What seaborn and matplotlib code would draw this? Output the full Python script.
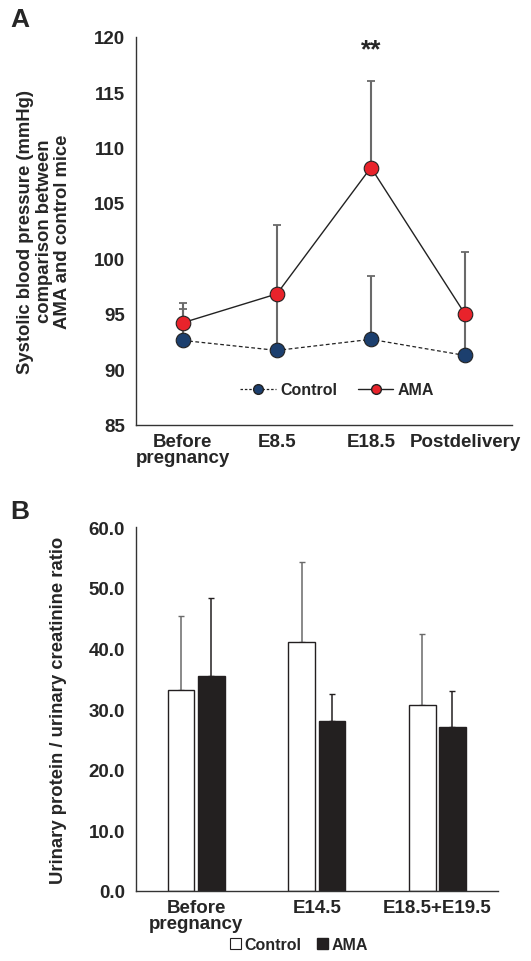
import numpy as np
import pandas as pd
import matplotlib
matplotlib.use("Agg")
import matplotlib.pyplot as plt
from matplotlib.lines import Line2D
from matplotlib.patches import Patch
import seaborn as sns

# ---------------- data ----------------
a_categories = ["Before\npregnancy", "E8.5", "E18.5", "Postdelivery"]
a_control = [92.6, 91.7, 92.7, 91.25]
a_control_err = [2.8, 5.1, 5.7, 3.6]
a_ama = [94.2, 96.8, 108.2, 95.0]
a_ama_err = [1.8, 6.2, 7.8, 5.55]
a_yticks = [85, 90, 95, 100, 105, 110, 115, 120]

b_categories = ["Before\npregnancy", "E14.5", "E18.5+E19.5"]
b_control = [33.2, 41.0, 30.65]
b_control_err = [12.1, 13.2, 11.75]
b_ama = [35.4, 28.1, 27.1]
b_ama_err = [13.0, 4.3, 5.9]
b_yticks = [0, 10, 20, 30, 40, 50, 60]

RED = "#E8232B"
NAVY = "#1C3F6E"
ERRC = "#6A6A6A"

sns.set_theme(style="white")
plt.rcParams["font.family"] = ["Liberation Sans", "DejaVu Sans"]
plt.rcParams["font.weight"] = "bold"

fig = plt.figure(figsize=(5.31, 9.62), dpi=100)

# ---------------- Panel A ----------------
axA = fig.add_axes([0.256, 0.5575, 0.708, 0.4033])
xA = np.arange(len(a_categories))

axA.errorbar(xA, a_control, yerr=[np.zeros(len(xA)), a_control_err], fmt="none",
             ecolor=ERRC, elinewidth=1.5, capsize=2.8, capthick=1.3, zorder=1)
axA.errorbar(xA, a_ama, yerr=[np.zeros(len(xA)), a_ama_err], fmt="none",
             ecolor=ERRC, elinewidth=1.5, capsize=2.8, capthick=1.3, zorder=1)

dfA = pd.DataFrame({"x": np.concatenate([xA, xA]),
                    "y": a_control + a_ama,
                    "group": ["Control"] * len(xA) + ["AMA"] * len(xA)})
sns.lineplot(data=dfA[dfA.group == "Control"], x="x", y="y", ax=axA,
             color="#222222", linestyle=(0, (3, 2)), linewidth=0.9,
             marker="o", markersize=10.5, markerfacecolor=NAVY,
             markeredgecolor="#222222", markeredgewidth=0.8, zorder=3, legend=False)
sns.lineplot(data=dfA[dfA.group == "AMA"], x="x", y="y", ax=axA,
             color="#222222", linestyle="-", linewidth=1.0,
             marker="o", markersize=10.5, markerfacecolor=RED,
             markeredgecolor="#222222", markeredgewidth=0.8, zorder=4, legend=False)

axA.set_xlim(-0.5, len(xA) - 0.5)
axA.set_ylim(85, 120)
axA.set_yticks(a_yticks)
axA.set_xticks(xA)
axA.set_xticklabels(a_categories, fontsize=13.5, fontweight="bold", linespacing=0.95)
axA.tick_params(axis="y", labelsize=13.5, length=0, pad=8)
axA.tick_params(axis="x", length=0, pad=6)
for t in axA.get_yticklabels():
    t.set_fontweight("bold")
axA.set_xlabel("")
axA.set_ylabel("Systolic blood pressure (mmHg)\ncomparison between\nAMA and control mice",
               fontsize=13.3, fontweight="bold", linespacing=1.12)
axA.yaxis.set_label_coords(-0.172, 0.5)
for s in ["top", "right"]:
    axA.spines[s].set_visible(False)
for s in ["left", "bottom"]:
    axA.spines[s].set_color("#333333")
    axA.spines[s].set_linewidth(1.0)
axA.text(2, 118.9, "**", ha="center", va="center", fontsize=19, fontweight="bold")

hA = [Line2D([], [], color="#222222", linestyle=(0, (2, 1.5)), linewidth=0.9, marker="o",
             markersize=7, markerfacecolor=NAVY, markeredgecolor="#222222"),
      Line2D([], [], color="#222222", linestyle="-", linewidth=1.0, marker="o",
             markersize=7, markerfacecolor=RED, markeredgecolor="#222222")]
legA = axA.legend(hA, ["Control", "AMA"], loc="center", bbox_to_anchor=(0.536, 0.09),
                  ncol=2, frameon=False, handlelength=2.2, columnspacing=1.3,
                  handletextpad=0.3, prop={"weight": "bold", "size": 11.5})

fig.text(0.019, 0.979, "A", fontsize=19, fontweight="bold", ha="left", va="center")

# ---------------- Panel B ----------------
axB = fig.add_axes([0.256, 0.0731, 0.6813, 0.3777])
dfB = pd.DataFrame({"cat": b_categories * 2,
                    "val": b_control + b_ama,
                    "group": ["Control"] * len(b_categories) + ["AMA"] * len(b_categories)})
sns.barplot(data=dfB, x="cat", y="val", hue="group", hue_order=["Control", "AMA"],
            palette={"Control": "white", "AMA": "#231F20"}, ax=axB, width=0.5,
            gap=0.12, errorbar=None, edgecolor="#231F20", linewidth=1.0,
            legend=False, zorder=2)

errs = {"Control": (b_control, b_control_err, ERRC), "AMA": (b_ama, b_ama_err, "#231F20")}
for cont, g in zip(axB.containers, ["Control", "AMA"]):
    vals, e, col = errs[g]
    xs = [p.get_x() + p.get_width() / 2 for p in cont.patches]
    axB.errorbar(xs, vals, yerr=[np.zeros(len(xs)), e], fmt="none", ecolor=col,
                 elinewidth=1.1, capsize=2.3, capthick=1.0, zorder=1)

axB.set_ylim(0, 60)
axB.set_xlim(-0.5, len(b_categories) - 0.5)
axB.set_yticks(b_yticks)
axB.set_yticklabels([f"{v:.1f}" for v in b_yticks], fontsize=13.5, fontweight="bold")
axB.set_xticklabels(b_categories, fontsize=13.5, fontweight="bold", linespacing=0.95)
axB.tick_params(axis="both", length=0)
axB.tick_params(axis="y", pad=8)
axB.tick_params(axis="x", pad=6)
axB.set_xlabel("")
axB.set_ylabel("Urinary protein / urinary creatinine ratio", fontsize=13.3,
               fontweight="bold")
axB.yaxis.set_label_coords(-0.19, 0.5)
for s in ["top", "right"]:
    axB.spines[s].set_visible(False)
for s in ["left", "bottom"]:
    axB.spines[s].set_color("#333333")
    axB.spines[s].set_linewidth(1.0)

hB = [Patch(facecolor="white", edgecolor="#231F20", linewidth=0.8),
      Patch(facecolor="#231F20", edgecolor="#231F20")]
fig.legend(hB, ["Control", "AMA"], loc="center", bbox_to_anchor=(0.563, 0.017),
           ncol=2, frameon=False, handlelength=0.7, handleheight=0.7,
           handletextpad=0.2, columnspacing=1.0,
           prop={"weight": "bold", "size": 11.5})

fig.text(0.019, 0.468, "B", fontsize=19, fontweight="bold", ha="left", va="center")

fig.savefig("out.png", dpi=100)
